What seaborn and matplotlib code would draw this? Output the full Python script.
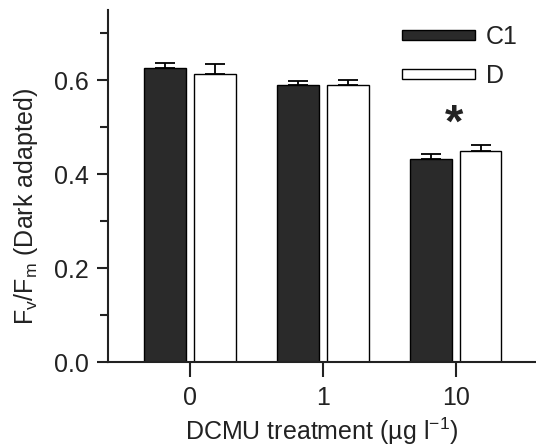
import numpy as np
import pandas as pd
import matplotlib
matplotlib.use("Agg")
import matplotlib.pyplot as plt
from matplotlib.patches import Patch
from matplotlib.ticker import MultipleLocator
import seaborn as sns

# data
dcmu = ["0", "1", "10"]
c1_mean = [0.626, 0.589, 0.433]
c1_err = [0.011, 0.009, 0.011]
d_mean = [0.613, 0.590, 0.450]
d_err = [0.022, 0.010, 0.013]
strains = ["C1", "D"]

df = pd.DataFrame({
    "dcmu": dcmu * 2,
    "strain": ["C1"] * 3 + ["D"] * 3,
    "fvfm": c1_mean + d_mean,
})
errs = {"C1": c1_err, "D": d_err}

sns.set_style("ticks")
plt.rcParams["font.family"] = ["Liberation Sans", "DejaVu Sans"]
plt.rcParams["text.color"] = "#222222"
plt.rcParams["xtick.color"] = "#222222"
plt.rcParams["ytick.color"] = "#222222"
plt.rcParams["axes.labelcolor"] = "#222222"
FS = 18

fig = plt.figure(figsize=(5.36, 4.47), dpi=100)
ax = fig.add_axes([0.2015, 0.19, 0.797, 0.788])

palette = {"C1": "#2a2a2a", "D": "white"}
sns.barplot(
    data=df, x="dcmu", y="fvfm", hue="strain", order=dcmu, hue_order=strains,
    palette=palette, width=0.752, gap=0.16, edgecolor="black", linewidth=1.0,
    errorbar=None, legend=False, ax=ax,
)

# upward-only error bars on top of each bar
bars = [p for p in ax.patches if p.get_height() > 0]
for i, s in enumerate(strains):
    grp = bars[i * 3:(i + 1) * 3]
    xs = [b.get_x() + b.get_width() / 2 for b in grp]
    ys = [b.get_height() for b in grp]
    ax.errorbar(xs, ys, yerr=[np.zeros(3), errs[s]], fmt="none",
                ecolor="black", elinewidth=1.3, capsize=7, capthick=1.3, zorder=3)

ax.text(1.99, 0.505, "*", ha="center", va="center", fontsize=34, fontweight="bold", color="#222222")

ax.set_xlim(-0.62, 2.6)
ax.set_ylim(0, 0.75)
ax.yaxis.set_minor_locator(MultipleLocator(0.1))
ax.set_yticks([0.0, 0.2, 0.4, 0.6])
ax.set_yticklabels(["0.0", "0.2", "0.4", "0.6"])
sns.despine(ax=ax)
for sp in ["left", "bottom"]:
    ax.spines[sp].set_linewidth(1.5)
    ax.spines[sp].set_color("#222222")
ax.tick_params(axis="y", which="major", length=8, width=1.5, pad=6, labelsize=FS)
ax.tick_params(axis="y", which="minor", length=5.5, width=1.5)
ax.tick_params(axis="x", length=11, width=1.5, pad=6, labelsize=FS)

ax.set_xlabel("DCMU treatment (µg l$^\\mathregular{-1}$)", fontsize=FS, labelpad=4)
ax.set_ylabel("F$_\\mathregular{v}$/F$_\\mathregular{m}$ (Dark adapted)", fontsize=FS, labelpad=10)
ax.yaxis.label.set_y(0.443)

handles = [Patch(facecolor=palette[s], edgecolor="black", linewidth=1.0, label=s) for s in strains]
ax.legend(handles=handles, loc="upper left", bbox_to_anchor=(0.665, 0.985), frameon=False,
          handlelength=2.9, handleheight=0.25, labelspacing=0.6, handletextpad=0.45,
          fontsize=FS, borderaxespad=0)

fig.savefig("out.png", dpi=100)
